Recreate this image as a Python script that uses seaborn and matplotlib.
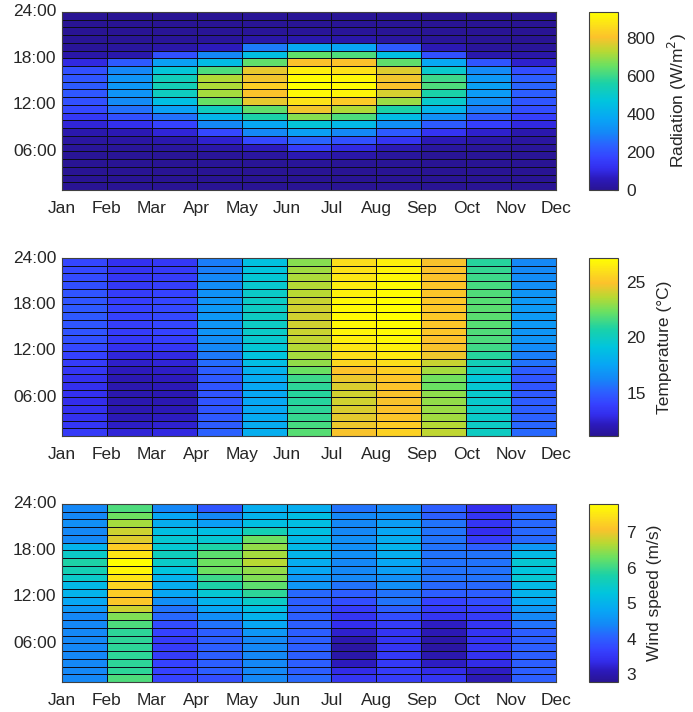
import numpy as np
import pandas as pd
import matplotlib
matplotlib.use("Agg")
import matplotlib.pyplot as plt
from matplotlib.colors import LinearSegmentedColormap
import seaborn as sns

sns.set_style("white")
plt.rcParams["font.family"] = ["Liberation Sans", "DejaVu Sans"]

# Month boundaries on the x axis (11 month-to-month cells)
months = ["Jan", "Feb", "Mar", "Apr", "May", "Jun", "Jul", "Aug", "Sep", "Oct", "Nov", "Dec"]
# Hour slots, listed from the top row (23-24 h) down to the bottom row (01-02 h)
hours = list(range(23, 0, -1))
hour_ticks = ["24:00", "18:00", "12:00", "06:00"]

# Solar radiation (W/m2): one list per hour slot, one value per month cell
radiation_rows = [
    [2, 3, 3, 3, 4, 5, 5, 4, 3, 2, 2],
    [2, 3, 3, 3, 4, 5, 5, 4, 3, 2, 2],
    [3, 3, 4, 5, 8, 10, 9, 6, 4, 3, 2],
    [4, 5, 8, 12, 30, 40, 35, 20, 8, 4, 3],
    [8, 15, 30, 60, 280, 380, 370, 220, 50, 12, 8],
    [30, 40, 200, 300, 450, 640, 620, 450, 200, 40, 30],
    [100, 220, 360, 440, 640, 800, 800, 640, 380, 210, 80],
    [200, 300, 480, 620, 780, 900, 870, 770, 500, 310, 190],
    [210, 330, 530, 720, 790, 930, 920, 790, 600, 340, 230],
    [220, 340, 540, 720, 830, 935, 925, 800, 620, 360, 240],
    [215, 330, 520, 710, 800, 920, 910, 760, 560, 350, 230],
    [200, 310, 450, 650, 780, 870, 820, 700, 500, 320, 210],
    [180, 260, 360, 520, 640, 790, 720, 560, 420, 280, 190],
    [140, 200, 260, 420, 560, 680, 620, 440, 320, 220, 160],
    [90, 120, 170, 300, 380, 480, 430, 320, 220, 160, 100],
    [40, 50, 90, 180, 300, 360, 300, 220, 130, 80, 40],
    [20, 25, 40, 80, 180, 240, 200, 130, 50, 30, 20],
    [8, 10, 15, 30, 60, 150, 100, 50, 15, 10, 8],
    [4, 5, 6, 10, 20, 50, 30, 15, 6, 4, 4],
    [3, 3, 3, 4, 5, 8, 6, 4, 3, 3, 3],
    [2, 2, 2, 3, 3, 3, 3, 3, 2, 2, 2],
    [2, 2, 2, 3, 3, 3, 3, 3, 2, 2, 2],
    [2, 2, 2, 3, 3, 3, 3, 3, 2, 2, 2],
]

# Air temperature (degC): one list per month cell, top row first
temperature_cols = [
    [14.2, 14.3, 14.4, 14.5, 14.7, 14.8, 14.9, 14.9, 14.8, 14.7, 14.6, 14.3, 14.0, 13.8, 13.5, 13.3, 13.2, 13.2, 13.1, 13.2, 13.3, 13.5, 13.7],
    [13.3, 13.4, 13.5, 13.6, 13.8, 13.9, 14.0, 14.0, 13.9, 13.8, 13.6, 13.2, 12.8, 12.5, 12.2, 12.0, 11.9, 11.9, 11.9, 12.0, 12.1, 12.4, 12.7],
    [13.6, 13.7, 13.8, 13.9, 14.1, 14.2, 14.3, 14.3, 14.2, 14.1, 13.9, 13.5, 13.0, 12.7, 12.4, 12.2, 12.1, 12.0, 12.0, 12.1, 12.3, 12.6, 12.9],
    [16.0, 16.1, 16.3, 16.5, 16.7, 16.9, 17.0, 17.0, 16.9, 16.8, 16.6, 16.3, 15.9, 15.5, 15.1, 14.9, 14.8, 14.7, 14.7, 14.8, 14.9, 15.0, 15.2],
    [19.0, 19.2, 19.4, 19.6, 19.8, 19.9, 20.0, 20.0, 19.9, 19.8, 19.6, 19.4, 19.2, 18.8, 18.2, 17.9, 17.7, 17.6, 17.6, 17.7, 17.8, 17.9, 18.0],
    [22.8, 23.2, 23.4, 23.5, 23.6, 23.9, 24.0, 24.0, 24.0, 23.9, 23.8, 23.5, 23.3, 23.0, 22.3, 21.4, 21.1, 21.0, 21.0, 21.1, 21.3, 21.6, 21.9],
    [25.8, 26.0, 26.2, 26.4, 26.6, 26.8, 26.9, 26.9, 26.8, 26.7, 26.5, 26.2, 25.9, 25.6, 24.9, 24.5, 24.2, 24.0, 24.0, 24.2, 24.4, 24.6, 24.8],
    [26.6, 26.7, 26.8, 26.9, 27.0, 27.1, 27.1, 27.1, 27.0, 26.9, 26.8, 26.6, 26.3, 25.9, 25.3, 25.0, 24.9, 24.8, 24.8, 24.9, 25.0, 25.2, 25.4],
    [24.8, 24.9, 24.9, 25.0, 25.0, 25.1, 25.1, 25.1, 25.0, 25.0, 24.9, 24.8, 24.6, 23.9, 23.3, 22.4, 22.3, 22.9, 23.0, 23.1, 23.2, 23.5, 23.7],
    [21.0, 21.2, 21.4, 21.6, 21.8, 21.9, 22.0, 22.0, 21.9, 21.8, 21.7, 21.5, 21.0, 20.3, 20.0, 19.3, 19.5, 19.7, 19.7, 19.8, 19.8, 19.9, 20.0],
    [16.3, 16.4, 16.5, 16.6, 16.8, 17.0, 17.1, 17.1, 17.0, 16.9, 16.8, 16.5, 16.1, 15.7, 15.0, 14.8, 14.8, 14.9, 15.0, 15.1, 15.2, 15.3, 15.4],
]

# Wind speed (m/s): one list per month cell, top row first
wind_cols = [
    [4.4, 4.4, 4.5, 4.4, 4.4, 5.0, 5.5, 5.8, 5.7, 5.5, 5.1, 5.0, 4.8, 4.6, 4.4, 4.4, 4.4, 4.4, 4.4, 4.4, 4.4, 4.4, 4.4],
    [6.1, 6.3, 6.6, 6.8, 6.9, 7.2, 7.5, 7.8, 7.7, 7.5, 7.3, 7.2, 7.15, 6.8, 6.4, 6.1, 5.9, 5.9, 5.9, 5.9, 5.9, 5.9, 6.1],
    [4.4, 4.8, 4.9, 5.2, 5.4, 5.4, 5.6, 5.5, 5.3, 5.0, 4.9, 4.8, 4.5, 4.2, 4.1, 3.8, 3.7, 3.6, 3.6, 3.6, 3.7, 3.7, 3.7],
    [3.9, 4.4, 4.7, 5.2, 5.4, 5.8, 6.2, 6.3, 6.3, 6.0, 5.8, 5.4, 5.0, 4.8, 4.5, 4.2, 4.0, 4.0, 4.0, 4.0, 4.0, 4.0, 3.8],
    [4.9, 5.0, 5.2, 5.7, 6.3, 6.5, 6.6, 6.7, 6.5, 6.4, 6.2, 5.9, 5.5, 5.2, 5.0, 4.8, 4.6, 4.4, 4.4, 4.4, 4.4, 4.4, 4.4],
    [4.9, 5.2, 5.2, 5.2, 5.1, 5.1, 5.0, 4.9, 4.8, 4.6, 4.6, 4.1, 4.0, 4.0, 4.0, 4.0, 4.0, 4.0, 4.0, 4.0, 4.0, 4.0, 4.1],
    [4.2, 4.4, 4.4, 4.4, 4.5, 4.5, 4.5, 4.4, 4.4, 4.4, 4.2, 4.0, 3.8, 3.6, 3.5, 3.4, 3.2, 3.0, 2.9, 2.95, 3.1, 3.35, 3.5],
    [4.4, 4.5, 4.7, 4.8, 4.9, 5.0, 4.9, 4.8, 4.7, 4.5, 4.5, 4.2, 4.2, 4.0, 3.8, 3.6, 3.5, 3.5, 3.5, 3.55, 3.55, 3.6, 3.6],
    [4.0, 4.0, 4.2, 4.2, 4.2, 4.2, 4.2, 4.2, 4.2, 4.2, 4.1, 4.0, 3.7, 3.6, 3.5, 3.15, 3.05, 2.95, 2.9, 3.0, 3.15, 3.35, 3.5],
    [3.4, 3.5, 3.5, 3.4, 3.6, 4.0, 4.2, 4.2, 4.2, 4.2, 4.1, 4.0, 3.8, 3.65, 3.6, 3.5, 3.5, 3.5, 3.5, 3.45, 3.35, 3.15, 3.05],
    [4.0, 4.1, 4.1, 4.1, 4.1, 4.6, 5.1, 5.4, 5.3, 5.4, 5.1, 5.0, 4.8, 4.6, 4.4, 4.2, 4.0, 4.0, 4.0, 4.0, 4.0, 4.0, 4.0],
]

# Parula-like colour map
parula_like = LinearSegmentedColormap.from_list("parula_like", [
    (0.00, (0.16, 0.08, 0.58)),
    (0.06, (0.17, 0.10, 0.73)),
    (0.12, (0.20, 0.18, 0.93)),
    (0.18, (0.21, 0.26, 1.00)),
    (0.25, (0.17, 0.38, 1.00)),
    (0.32, (0.08, 0.53, 0.97)),
    (0.40, (0.03, 0.65, 0.96)),
    (0.50, (0.00, 0.77, 0.87)),
    (0.60, (0.10, 0.82, 0.66)),
    (0.70, (0.42, 0.88, 0.38)),
    (0.78, (0.72, 0.85, 0.20)),
    (0.86, (0.99, 0.76, 0.17)),
    (0.93, (0.99, 0.88, 0.10)),
    (1.00, (1.00, 1.00, 0.00)),
])

panels = [
    (np.array(radiation_rows, dtype=float), 0, 935, [0, 200, 400, 600, 800], "Radiation (W/m$^2$)"),
    (np.array(temperature_cols).T, 11.2, 27.1, [15, 20, 25], "Temperature (\u00b0C)"),
    (np.array(wind_cols).T, 2.78, 7.8, [3, 4, 5, 6, 7], "Wind speed (m/s)"),
]

W, H = 693, 712
fig = plt.figure(figsize=(W / 100, H / 100), dpi=100)
text_color = "#262626"
axes_tops = [12, 258, 504]
panel_h = 178

for (values, vmin, vmax, ticks, label), top in zip(panels, axes_tops):
    bottom = (H - top - panel_h) / H
    ax = fig.add_axes([62 / W, bottom, 494 / W, panel_h / H])
    cax = fig.add_axes([589 / W, bottom, 29 / W, panel_h / H])
    df = pd.DataFrame(values, index=hours, columns=months[:-1])
    sns.heatmap(df, ax=ax, cbar_ax=cax, cmap=parula_like, vmin=vmin, vmax=vmax,
                linewidths=0.45, linecolor=(0.05, 0.05, 0.1))
    ax.set_xticks(np.arange(12))
    ax.set_xticklabels(months, rotation=0, fontsize=12.5, color=text_color)
    ax.set_yticks([0, 6, 12, 18])
    ax.set_yticklabels(hour_ticks, rotation=0, fontsize=12.5, color=text_color)
    ax.tick_params(axis="x", length=0, pad=8)
    ax.tick_params(axis="y", length=0, pad=4)
    ax.set_xlabel("")
    ax.set_ylabel("")
    for sp in ax.spines.values():
        sp.set_visible(True)
        sp.set_color("#404040")
        sp.set_linewidth(0.8)

    cbar = ax.collections[0].colorbar
    cbar.set_ticks(ticks)
    cbar.ax.tick_params(labelsize=12.5, labelcolor=text_color, direction="in",
                        length=3, width=0.8, color=text_color, pad=6)
    cbar.outline.set_edgecolor("#404040")
    cbar.outline.set_linewidth(0.8)
    cbar.set_label(label, fontsize=12.5, color=text_color, labelpad=8)

fig.savefig("out.png", dpi=100)
